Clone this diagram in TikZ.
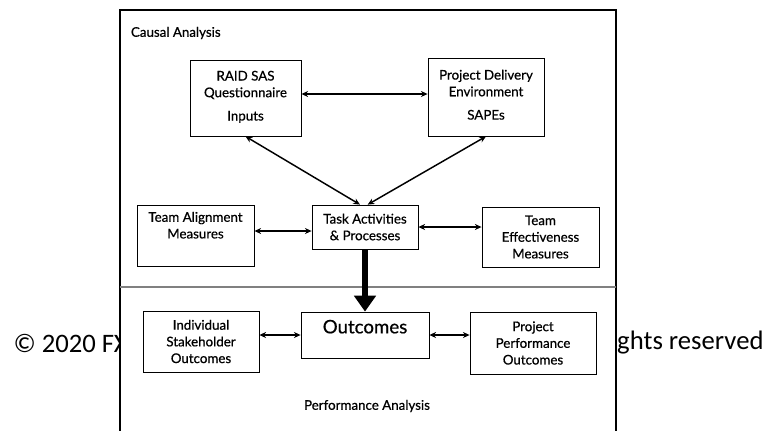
\documentclass[tikz,border=0pt]{standalone}
\usepackage{fontspec}
\setmainfont{Lato}
\newfontfamily\boxfont{Lato}[FakeBold=0.6]
\newfontfamily\copyfont{Carlito}
\usetikzlibrary{arrows.meta}

\begin{document}
\begin{tikzpicture}[x=0.75pt,y=-0.75pt,thick,every text node part/.style={align=center},
    box/.style={draw,line width=0.6pt,inner sep=2pt,font=\boxfont\fontsize{10}{12.5}\selectfont},
    dbl/.style={{Stealth[length=5pt,width=4.5pt]}-{Stealth[length=5pt,width=4.5pt]},line width=1.1pt},
    big/.style={-{Triangle[length=12pt,width=16pt]},line width=4.5pt}]

    \useasboundingbox (0,0) rectangle (764,430);

    % --------------------------------------------------------- %
    % ------------- copyright line (behind the frame)
    % --------------------------------------------------------- %
    \node[anchor=west,inner sep=0,font=\copyfont\fontsize{20}{24}\selectfont] (copyl) at (13,343) {© 2020 FX};
    \node[anchor=east,inner sep=0,font=\copyfont\fontsize{20}{24}\selectfont] (copyr) at (764,343) {ghts reserved};

    % --------------------------------------------------------- %
    % ------------- frame
    % --------------------------------------------------------- %
    \fill[white] (120,10) rectangle (616,435);
    \draw[line width=2.2pt] (120,435) -- (120,10) -- (616,10) -- (616,435);
    \draw[gray,line width=0.8pt] (120,287) -- (616,287);

    \node[anchor=west,font=\boxfont\fontsize{10}{12}\selectfont] (causal) at (126,33) {Causal Analysis};
    \node[font=\boxfont\fontsize{10}{12}\selectfont] (perfan) at (367,406) {Performance Analysis};

    % --------------------------------------------------------- %
    % ------------- causal analysis
    % --------------------------------------------------------- %
    \node[box,minimum width=83.3pt,minimum height=57pt] (raid) at (245.5,98) {RAID SAS\\Questionnaire\\[5pt]Inputs\\[-9pt]\mbox{}};
    \node[box,minimum width=87pt,minimum height=58.5pt] (pde) at (486,97) {Project Delivery\\Environment\\[5pt]SAPEs\\[-9pt]\mbox{}};
    \draw[dbl] ([yshift=3pt]raid.east) -- ([yshift=3pt]raid.east -| pde.west);

    \node[box,minimum width=79.5pt,minimum height=33pt] (task) at (365,227) {Task Activities\\\& Processes};
    \draw[dbl] (raid.south) -- ([xshift=-3.75pt]task.north);
    \draw[dbl] (pde.south) -- ([xshift=2pt]task.north);

    \node[box,minimum width=87.8pt,minimum height=45.8pt] (align) at (195.5,235.5) {Team Alignment\\Measures\\[3pt]\mbox{}};
    \draw[dbl] ([yshift=-3pt]task.west -| align.east) -- ([yshift=-3pt]task.west);

    \node[box,minimum width=87.8pt,minimum height=45pt] (effect) at (540.5,237) {Team\\Effectiveness\\Measures};
    \draw[dbl] (task.east) -- (task.east -| effect.west);

    % --------------------------------------------------------- %
    % ------------- performance analysis
    % --------------------------------------------------------- %
    \node[box,minimum width=96pt,minimum height=34.5pt,font=\boxfont\fontsize{14}{16}\selectfont,text height=13pt,text depth=15.5pt] (outc) at (365,335) {Outcomes};
    \draw[big] (task.south) -- (outc.north);

    \node[box,minimum width=87pt,minimum height=45.8pt] (indiv) at (201,341.5) {Individual\\Stakeholder\\Outcomes};
    \draw[dbl] (outc.west -| indiv.east) -- (outc.west);

    \node[box,minimum width=94.5pt,minimum height=46.5pt] (perf) at (533,343) {Project\\Performance\\Outcomes};
    \draw[dbl] (outc.east) -- (outc.east -| perf.west);

  \end{tikzpicture}
\end{document}
